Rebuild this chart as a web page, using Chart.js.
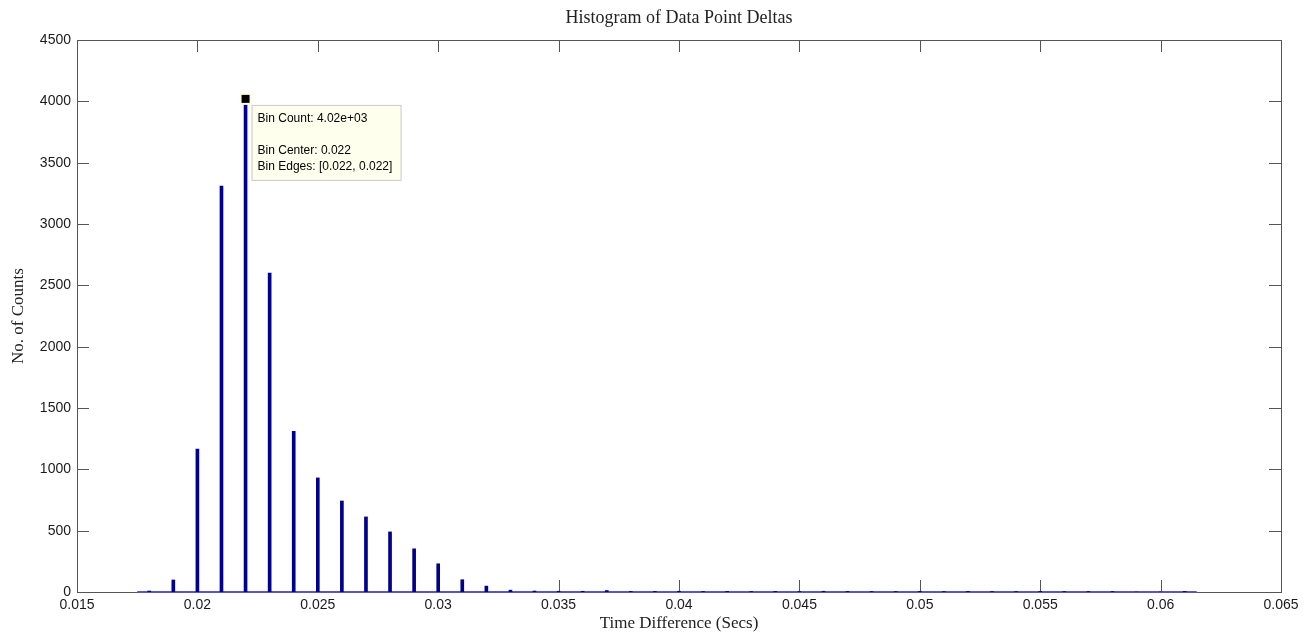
<!DOCTYPE html>
<html>
<head>
<meta charset="utf-8">
<script src="https://cdn.jsdelivr.net/npm/chart.js@4.4.1/dist/chart.umd.min.js"></script>
<style>
    html, body { margin: 0; padding: 0; background: #fff; }
    #wrap { width: 1314px; height: 634px; position: relative; }
</style>
</head>
<body>
<div id="wrap"><canvas id="hist"></canvas></div>
<script>
// bin centres (s) and counts
const binCenters = [
    0.018, 0.019, 0.020, 0.021, 0.022, 0.023, 0.024, 0.025, 0.026, 0.027,
    0.028, 0.029, 0.030, 0.031, 0.032, 0.033, 0.034, 0.035, 0.036, 0.037,
    0.038, 0.039, 0.040, 0.041, 0.042, 0.043, 0.044, 0.045, 0.046, 0.047,
    0.048, 0.049, 0.050, 0.051, 0.052, 0.053, 0.054, 0.055, 0.056, 0.057,
    0.058, 0.059, 0.060, 0.061,
];
const binCounts = [
    8, 98, 1165, 3310, 4020, 2600, 1310, 930, 742, 612,
    490, 352, 230, 100, 48, 15, 8, 6, 6, 12,
    5, 5, 6, 4, 5, 4, 5, 4, 6, 5,
    4, 4, 5, 4, 5, 4, 4, 5, 4, 4,
    4, 0, 0, 5,
];
const xTicks = [0.015, 0.02, 0.025, 0.03, 0.035, 0.04, 0.045, 0.05, 0.055, 0.06, 0.065];
const yTicks = [0, 500, 1000, 1500, 2000, 2500, 3000, 3500, 4000, 4500];

// datatip shown on the tallest bin
const tipIndex = 4;
const tipLines = ['Bin Count: 4.02e+03', '', 'Bin Center: 0.022', 'Bin Edges: [0.022, 0.022]'];

const binWidth = 0.001;
const baseline = [
    { x: binCenters[0] - binWidth / 2, y: 0 },
    { x: binCenters[binCenters.length - 1] + binWidth / 2, y: 0 },
];

const serif = "'Liberation Serif', 'DejaVu Serif', serif";
const sans = "'Liberation Sans', Arial, sans-serif";

// frame with inward, mirrored ticks (MATLAB style)
const framePlugin = {
    id: 'frame',
    beforeDatasetsDraw(chart) {
        const { ctx, chartArea: a, scales: { x, y } } = chart;
        ctx.save();
        ctx.strokeStyle = '#555';
        ctx.lineWidth = 1;
        ctx.strokeRect(a.left + 0.5, a.top + 0.5, a.right - a.left, a.bottom - a.top);
        ctx.beginPath();
        const t = 12;
        xTicks.forEach(v => {
            const px = Math.round(x.getPixelForValue(v)) + 0.5;
            ctx.moveTo(px, a.bottom); ctx.lineTo(px, a.bottom - t);
            ctx.moveTo(px, a.top); ctx.lineTo(px, a.top + t);
        });
        yTicks.forEach(v => {
            const py = Math.round(y.getPixelForValue(v)) + 0.5;
            ctx.moveTo(a.left, py); ctx.lineTo(a.left + t, py);
            ctx.moveTo(a.right, py); ctx.lineTo(a.right - t, py);
        });
        ctx.stroke();
        ctx.restore();
    },
    afterDraw(chart) {
        const { ctx, chartArea: a, scales: { x, y } } = chart;
        ctx.save();
        // title
        ctx.fillStyle = '#222';
        ctx.font = '18px ' + serif;
        ctx.textAlign = 'center';
        ctx.textBaseline = 'middle';
        ctx.fillText('Histogram of Data Point Deltas', (a.left + a.right) / 2, 18);

        // datatip marker + box
        const px = x.getPixelForValue(binCenters[tipIndex]);
        const py = y.getPixelForValue(binCounts[tipIndex]);
        ctx.fillStyle = '#ffffe0';
        ctx.fillRect(px - 6, py - 6, 12, 12);
        ctx.fillStyle = '#000';
        ctx.fillRect(px - 4, py - 4, 8, 8);

        const bx = px + 6, by = py + 6, bw = 149, bh = 75;
        ctx.fillStyle = '#ffffee';
        ctx.fillRect(bx, by, bw, bh);
        ctx.strokeStyle = '#c8c8c8';
        ctx.strokeRect(bx + 0.5, by + 0.5, bw, bh);
        ctx.fillStyle = '#000';
        ctx.font = '12px ' + sans;
        ctx.textAlign = 'left';
        tipLines.forEach((s, i) => {
            ctx.fillText(s, bx + 6, by + 14 + i * 16);
        });
        ctx.restore();
    },
};

new Chart(document.getElementById('hist'), {
    type: 'bar',
    data: {
        datasets: [
            {
                type: 'line',
                label: 'baseline',
                data: baseline,
                borderColor: '#5858c4',
                borderWidth: 2,
                pointRadius: 0,
                clip: false,
                order: 2,
            },
            {
                label: 'Counts',
                data: binCenters.map((c, i) => ({ x: c, y: binCounts[i] })),
                backgroundColor: '#00008b',
                barThickness: 3,
                order: 1,
            },
        ],
    },
    options: {
        responsive: true,
        maintainAspectRatio: false,
        animation: false,
        layout: { padding: { top: 40, right: 33, left: 0, bottom: 0 } },
        scales: {
            x: {
                type: 'linear',
                min: 0.015,
                max: 0.065,
                offset: false,
                afterFit: (s) => { s.height = 42; },
                afterBuildTicks: (s) => { s.ticks = xTicks.map(v => ({ value: v })); },
                grid: { display: false, drawTicks: false },
                border: { display: false },
                ticks: {
                    padding: 5,
                    color: '#1a1a1a',
                    font: { family: sans, size: 14 },
                    callback: (v) => String(Number(v.toFixed(3))),
                },
                title: {
                    display: true,
                    text: 'Time Difference (Secs)',
                    color: '#222',
                    font: { family: serif, size: 17 },
                    padding: { top: 1, bottom: 0 },
                },
            },
            y: {
                min: 0,
                max: 4500,
                afterFit: (s) => { s.width = 77; },
                afterBuildTicks: (s) => { s.ticks = yTicks.map(v => ({ value: v })); },
                grid: { display: false, drawTicks: false },
                border: { display: false },
                ticks: {
                    padding: 6,
                    color: '#1a1a1a',
                    font: { family: sans, size: 14 },
                    callback: (v) => String(v),
                },
                title: {
                    display: true,
                    text: 'No. of Counts',
                    color: '#222',
                    font: { family: serif, size: 17 },
                    padding: { top: 8, bottom: 0 },
                },
            },
        },
        plugins: {
            legend: { display: false },
            tooltip: { enabled: false },
        },
    },
    plugins: [framePlugin],
});
</script>
</body>
</html>
